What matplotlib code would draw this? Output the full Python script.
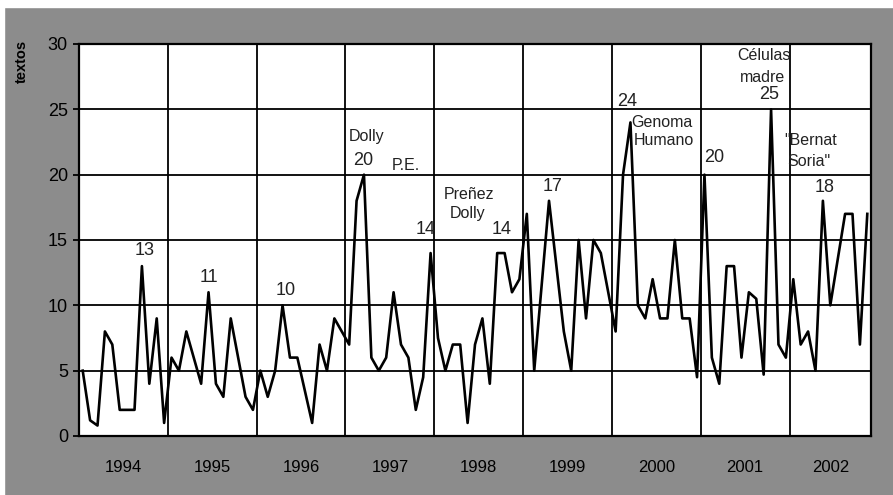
import numpy as np
import matplotlib
matplotlib.use("Agg")
import matplotlib.pyplot as plt

plt.rcParams['font.family'] = ['Liberation Sans', 'DejaVu Sans']

# monthly number of texts, Jan 1994 - Nov 2002
y1994 = [5, 1.2, 0.8, 8, 7, 2, 2, 2, 13, 4, 9, 1]
y1995 = [6, 5, 8, 6, 4, 11, 4, 3, 9, 6, 3, 2]
y1996 = [5, 3, 5, 10, 6, 6, 3.5, 1, 7, 5, 9, 8]
y1997 = [7, 18, 20, 6, 5, 6, 11, 7, 6, 2, 4.5, 14]
y1998 = [7.5, 5, 7, 7, 1, 7, 9, 4, 14, 14, 11, 12]
y1999 = [17, 5, 11.5, 18, 13, 8, 5, 15, 9, 15, 14, 11]
y2000 = [8, 20, 24, 10, 9, 12, 9, 9, 15, 9, 9, 4.5]
y2001 = [20, 6, 4, 13, 13, 6, 11, 10.5, 4.7, 25, 7, 6]
y2002 = [12, 7, 8, 5, 18, 10, 13.5, 17, 17, 7, 17]

years = ['1994', '1995', '1996', '1997', '1998', '1999', '2000', '2001', '2002']
textos = y1994 + y1995 + y1996 + y1997 + y1998 + y1999 + y2000 + y2001 + y2002
meses = np.arange(len(textos))

# annotations: text, month index, value
notas = [
    ('13', 8.3, 14.2), ('11', 17, 12.1), ('10', 27.4, 11.1),
    ('Dolly', 38.3, 22.9), ('20', 37.9, 21.1), ('P.E.', 43.7, 20.7),
    ('14', 46.3, 15.8), ('Preñez', 52.2, 18.5), ('Dolly', 52.0, 17.0),
    ('14', 56.6, 15.8), ('17', 63.5, 19.1), ('24', 73.6, 25.6),
    ('Genoma', 78.3, 24.0), ('Humano', 78.5, 22.6), ('20', 85.3, 21.3),
    ('Células', 92.0, 29.1), ('madre', 91.8, 27.4), ('25', 92.7, 26.1),
    ('"Bernat', 98.4, 22.6), ('Soria"', 98.1, 21.0), ('18', 100.2, 19.0),
]

fig = plt.figure(figsize=(8.93, 4.95), dpi=100)
fig.patch.set_facecolor('#8c8c8c')
# thin white margin on top and left like the scanned original
fig.patches.append(plt.Rectangle((0, 0), 4 / 893, 1, transform=fig.transFigure,
                                 color='white', zorder=0))
fig.patches.append(plt.Rectangle((0, 1 - 7 / 495), 1, 7 / 495, transform=fig.transFigure,
                                 color='white', zorder=0))

ax = fig.add_axes([79 / 893, 59 / 495, 792 / 893, 392 / 495])
ax.set_facecolor('white')

for yv in range(5, 30, 5):
    ax.axhline(yv, color='black', lw=1.3, zorder=1)
for k in range(1, len(years)):
    ax.axvline(12 * k - 0.5, color='black', lw=1.3, zorder=1)

ax.plot(meses, textos, color='black', lw=1.9, zorder=2)

for txt, xm, yv in notas:
    size = 13 if txt.replace('"', '').isdigit() else 11.5
    ax.text(xm, yv, txt, ha='center', va='center', fontsize=size, color='#222222')

ax.set_xlim(-0.5, len(textos) - 0.5)
ax.set_ylim(0, 30)
ax.set_yticks(range(0, 31, 5))
centros = [min(12 * k + 5.5, (12 * k - 0.5 + len(textos) - 0.5) / 2) for k in range(len(years))]
ax.set_xticks(centros)
ax.set_xticklabels(years)
ax.tick_params(axis='x', length=0, pad=17, labelsize=12)
ax.tick_params(axis='y', length=4, width=1.3, pad=4, labelsize=13)
for s in ax.spines.values():
    s.set_linewidth(1.6)

fig.text(22 / 893, 1 - 40 / 495, 'textos', rotation=90, ha='center', va='top',
         fontsize=10.5, fontweight='bold')

fig.savefig('out.png', dpi=100, facecolor=fig.get_facecolor())
